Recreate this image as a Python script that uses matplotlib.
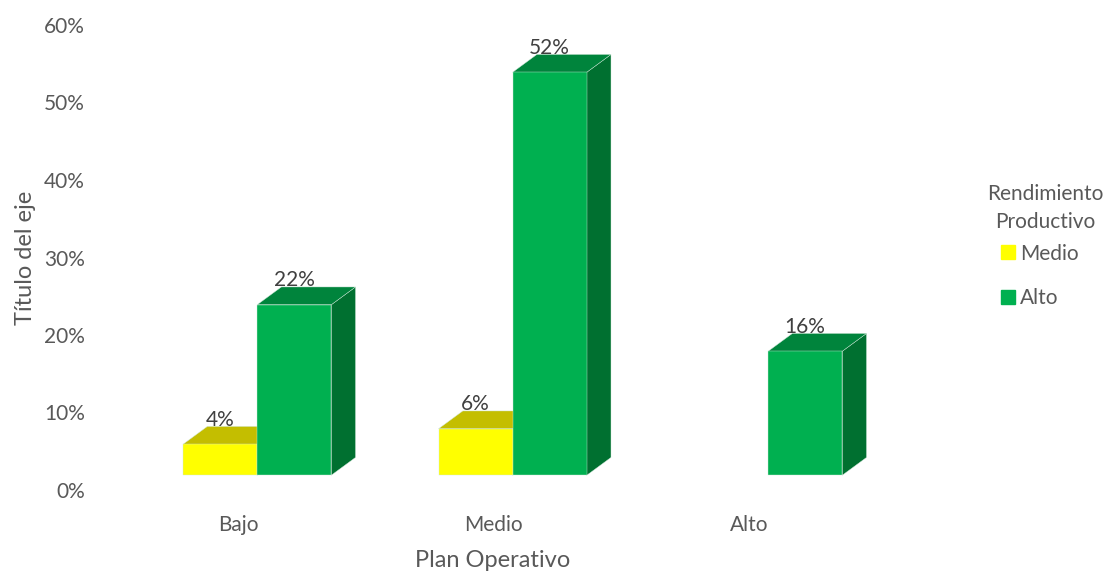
import matplotlib.pyplot as plt
from matplotlib.patches import Polygon
from matplotlib.lines import Line2D

plt.rcParams['font.family'] = ['Lato', 'DejaVu Sans']

# ===== DATA =====
categories = ["Bajo", "Medio", "Alto"]
series_names = ["Medio", "Alto"]
medio_vals = [4, 6, None]
alto_vals = [22, 52, 16]
y_ticks = [0, 10, 20, 30, 40, 50, 60]

# ===== STYLE =====
FRONT = {"Medio": "#FFFF00", "Alto": "#00B050"}
TOP = {"Medio": "#C4BE00", "Alto": "#00843C"}
SIDE = {"Medio": "#A8A300", "Alto": "#007030"}
TICK_COLOR = "#595959"
LABEL_COLOR = "#404040"

BAR_W = 0.29      # front face width (category units)
DX = 0.095        # depth offset, x
DY = 2.3          # depth offset, y (percent units)
BASE = 1.9        # floor of the front face
OFFSETS = {"Medio": -0.215, "Alto": 0.075}


def draw_box(ax, x0, h, name):
    x1 = x0 + BAR_W
    top = BASE + h
    ec = "#CFE8D8"
    ax.add_patch(Polygon([(x1, BASE), (x1 + DX, BASE + DY), (x1 + DX, top + DY), (x1, top)],
                         closed=True, fc=SIDE[name], ec=ec, lw=0.3))
    ax.add_patch(Polygon([(x0, top), (x0 + DX, top + DY), (x1 + DX, top + DY), (x1, top)],
                         closed=True, fc=TOP[name], ec=ec, lw=0.3))
    ax.add_patch(Polygon([(x0, BASE), (x1, BASE), (x1, top), (x0, top)],
                         closed=True, fc=FRONT[name], ec=ec, lw=0.3))
    ax.text(x0 + BAR_W / 2, top + DY - 0.4, f"{h}%", ha="center", va="bottom",
            fontsize=15, color=LABEL_COLOR)


fig = plt.figure(figsize=(11.1, 5.72), dpi=100)
ax = fig.add_axes([100 / 1110, 82 / 572, 860 / 1110, 465 / 572])

for i, cat in enumerate(categories):
    for name, vals in zip(series_names, [medio_vals, alto_vals]):
        v = vals[i]
        if v is None:
            continue
        draw_box(ax, i + OFFSETS[name], v, name)

ax.set_xlim(-0.54, 2.826)
ax.set_ylim(0, 60)
ax.set_yticks(y_ticks)
ax.set_yticklabels([f"{t}%" for t in y_ticks], fontsize=15, color=TICK_COLOR)
ax.set_xticks(range(len(categories)))
ax.set_xticklabels(categories, fontsize=15, color=TICK_COLOR)
ax.tick_params(axis="y", length=0, pad=11)
ax.tick_params(axis="x", length=0, pad=18)
for s in ax.spines.values():
    s.set_visible(False)

ax.set_xlabel("Plan Operativo", fontsize=17, color=TICK_COLOR)
ax.xaxis.set_label_coords((493 - 100) / 860, -60 / 465)
ax.set_ylabel("Título del eje", fontsize=17, color=TICK_COLOR)
ax.yaxis.set_label_coords(-64 / 860, (490 - 258) / 465)

# legend: title drawn separately so its spacing can be set on its own
fig.text(1045 / 1110, 1 - 208 / 572, "Rendimiento\nProductivo", ha="center", va="center",
         fontsize=15, color=TICK_COLOR, linespacing=1.55, multialignment="center")
handles = [Line2D([0], [0], marker="s", ls="", ms=9.5, mfc=FRONT[n], mec=FRONT[n]) for n in series_names]
leg = fig.legend(handles, series_names, loc="center",
                 bbox_to_anchor=(1038 / 1110, 1 - 276 / 572), frameon=False, fontsize=15,
                 handletextpad=0.1, labelspacing=1.2, handlelength=1.0, borderpad=0)
for t in leg.get_texts():
    t.set_color(TICK_COLOR)

fig.savefig("out.png", dpi=100)
